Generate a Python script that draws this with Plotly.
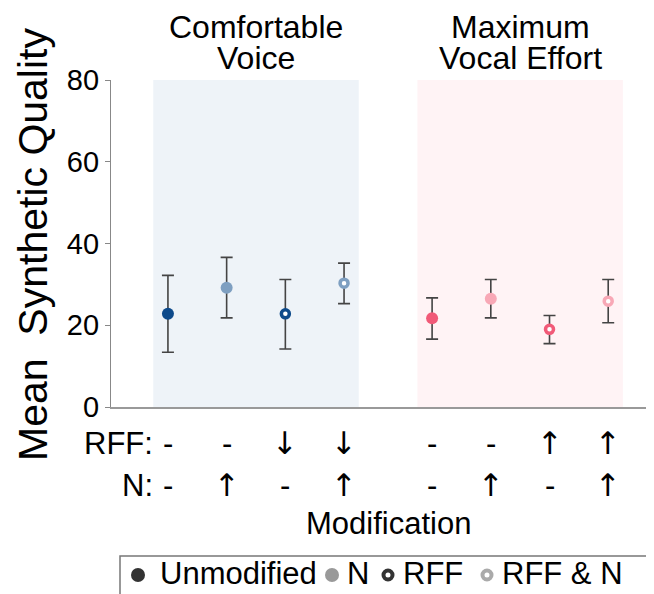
import plotly.graph_objects as go

# ---------------- data ----------------
groups = ["Comfortable Voice", "Comfortable Voice", "Comfortable Voice", "Comfortable Voice",
          "Maximum Vocal Effort", "Maximum Vocal Effort", "Maximum Vocal Effort", "Maximum Vocal Effort"]
conditions = ["Unmodified", "N", "RFF", "RFF & N", "Unmodified", "N", "RFF", "RFF & N"]
means = [22.8, 29.2, 22.8, 30.3, 21.7, 26.5, 19.0, 25.9]
upper = [32.2, 36.6, 31.2, 35.2, 26.7, 31.2, 22.4, 31.2]
lower = [13.4, 21.8, 14.2, 25.3, 16.6, 21.8, 15.5, 20.6]
rff_labels = ["-", "-", "↓", "↓", "-", "-", "↑", "↑"]
n_labels = ["-", "↑", "-", "↑", "-", "↑", "-", "↑"]
y_ticks = [0, 20, 40, 60, 80]

group_titles = {"Comfortable Voice": ["Comfortable", "Voice"],
                "Maximum Vocal Effort": ["Maximum", "Vocal Effort"]}
group_colors = {"Comfortable Voice": {"dark": "#0d4a8b", "light": "#7e9fc1", "band": "#eef3f8"},
                "Maximum Vocal Effort": {"dark": "#f15a78", "light": "#f8a8b6", "band": "#fff3f5"}}
legend_labels = ["Unmodified", "N", "RFF", "RFF & N"]
legend_colors = ["#333333", "#999999", "#333333", "#aaaaaa"]

FONT = "Liberation Sans, Arial, sans-serif"
ARROW_FONT = "DejaVu Sans, Liberation Sans, sans-serif"
PAGE_W, PAGE_H = 654, 594
OFF = 8                      # page body margin
W, H = PAGE_W - OFF, PAGE_H - OFF

# x positions: one unit per condition, 1.5 units between groups
group_order = list(dict.fromkeys(groups))
xpos = [i + 1 + 0.5 * group_order.index(g) for i, g in enumerate(groups)]

fig = go.Figure()

for i in range(len(means)):
    g = groups[i]
    c = conditions[i]
    shade = "light" if c in ("N", "RFF & N") else "dark"
    col = group_colors[g][shade]
    is_open = c.startswith("RFF")
    marker = dict(size=8 if is_open else 12,
                  color="white" if is_open else col,
                  line=dict(color=col, width=3.5 if is_open else 0))
    fig.add_trace(go.Scatter(
        x=[xpos[i]], y=[means[i]], mode="markers", marker=marker,
        error_y=dict(type="data", symmetric=False,
                     array=[upper[i] - means[i]], arrayminus=[means[i] - lower[i]],
                     color="#444444", thickness=1.6, width=6),
        showlegend=False, xaxis="x", yaxis="y"))

# group background bands and titles
for g in group_order:
    xs = [x for x, gg in zip(xpos, groups) if gg == g]
    fig.add_shape(type="rect", xref="x", yref="y", x0=min(xs) - 0.25, x1=max(xs) + 0.25,
                  y0=0, y1=80, fillcolor=group_colors[g]["band"], line_width=0, layer="below")
    cx = (min(xs) + max(xs)) / 2
    for k, line in enumerate(group_titles[g]):
        fig.add_annotation(x=cx, xref="x", y=[27, 58][k], yref="y2", text=line,
                           showarrow=False, font=dict(family=FONT, size=32, color="black"),
                           xanchor="center", yanchor="middle")

# modification rows
def sym_font(s):
    return ARROW_FONT if s in ("↑", "↓") else FONT

for x, r, n in zip(xpos, rff_labels, n_labels):
    fig.add_annotation(x=x, xref="x", y=443, yref="y2", text=r, showarrow=False,
                       font=dict(family=sym_font(r), size=31, color="black"), yanchor="middle")
    fig.add_annotation(x=x, xref="x", y=485, yref="y2", text=n, showarrow=False,
                       font=dict(family=sym_font(n), size=31, color="black"), yanchor="middle")
for lab, yy in (("RFF:", 443), ("N:", 485)):
    fig.add_annotation(x=155, xref="x2", y=yy, yref="y2", text=lab, showarrow=False,
                       font=dict(family=FONT, size=31, color="black"),
                       xanchor="right", yanchor="middle")
fig.add_annotation(x=(xpos[0] + xpos[-1]) / 2, xref="x", y=523, yref="y2", text="Modification",
                   showarrow=False, font=dict(family=FONT, size=31, color="black"),
                   yanchor="middle")

# y-axis title
fig.add_annotation(x=33, xref="x2", y=245, yref="y2", text="Mean\u00a0\u00a0Synthetic Quality",
                   textangle=-90, showarrow=False,
                   font=dict(family=FONT, size=41, color="black"),
                   xanchor="center", yanchor="middle")

# custom legend (overlay pixel axes)
leg_marker_x = [138, 332, 388, 487]
for lab, col, mx in zip(legend_labels, legend_colors, leg_marker_x):
    is_open = lab.startswith("RFF")
    fig.add_trace(go.Scatter(
        x=[mx], y=[575], mode="markers", xaxis="x2", yaxis="y2", showlegend=False,
        marker=dict(size=9 if is_open else 14, color="white" if is_open else col,
                    line=dict(color=col, width=4 if is_open else 0))))
    fig.add_annotation(x=mx + (20 if lab == "Unmodified" else 13), xref="x2", y=573, yref="y2",
                       text=lab, showarrow=False, xanchor="left", yanchor="middle",
                       font=dict(family=FONT, size=31, color="black"))
fig.add_shape(type="rect", xref="x2", yref="y2", x0=120, x1=PAGE_W + 10, y0=556,
              y1=PAGE_H + 10, line=dict(color="#777777", width=1.5),
              fillcolor="rgba(0,0,0,0)")

fig.update_layout(
    width=W, height=H, margin=dict(l=0, r=0, t=0, b=0, autoexpand=False),
    paper_bgcolor="white", plot_bgcolor="rgba(0,0,0,0)",
    font=dict(family=FONT, color="black"),
    xaxis=dict(domain=[(111 - OFF) / W, 1], range=[0.03, 9.28], showgrid=False,
               zeroline=False, showticklabels=False, ticks="", showline=True,
               linecolor="#999999", linewidth=2, anchor="y", fixedrange=True,
               automargin=False),
    yaxis=dict(domain=[(PAGE_H - 407) / H, (PAGE_H - 80) / H], range=[0, 80],
               tickvals=y_ticks, showgrid=False, zeroline=False, showline=True,
               linecolor="#888888", linewidth=1.2, ticks="outside", ticklen=5,
               tickcolor="#888888", tickfont=dict(family=FONT, size=29, color="black"),
               anchor="x", fixedrange=True, automargin=False),
    xaxis2=dict(domain=[0, 1], range=[OFF, PAGE_W], visible=False, anchor="y2",
                fixedrange=True, automargin=False),
    yaxis2=dict(domain=[0, 1], range=[PAGE_H, OFF], visible=False, anchor="x2",
                fixedrange=True, automargin=False),
)

fig.write_html("out.html")
